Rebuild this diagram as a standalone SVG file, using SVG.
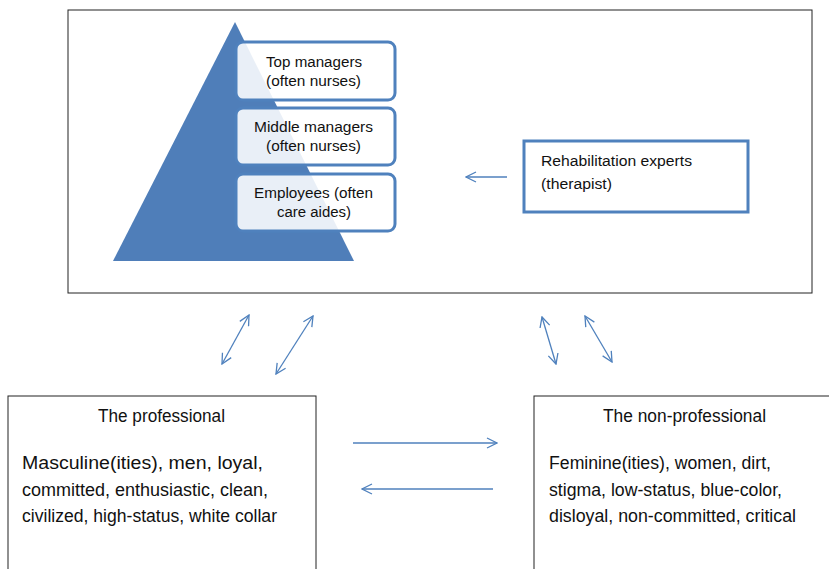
<svg xmlns="http://www.w3.org/2000/svg" width="829" height="569" viewBox="0 0 829 569">
<style>
text{font-family:"Liberation Sans","Noto Sans",sans-serif;fill:#111;}
.t{font-size:14px;}
.b{font-size:17.5px;}
.frame{fill:#fff;stroke:#222;stroke-width:1;}
.tier{fill:#fff;fill-opacity:0.88;stroke:#4f81bd;stroke-width:3;}
.con{fill:none;stroke:#4f81bd;stroke-width:1.3;}
</style>
<defs>
<marker id="ah" viewBox="0 0 12 12" refX="11" refY="6" markerWidth="12" markerHeight="12" markerUnits="userSpaceOnUse" orient="auto-start-reverse">
<path d="M1,1 L11,6 L1,11" fill="none" stroke="#4f81bd" stroke-width="1.3"/>
</marker>
</defs>
<g id="org">
<rect class="frame" x="68" y="10" width="744" height="283"/>
<polygon points="235,22 113,261 354,261" fill="#4f7eb9"/>
</g>
<g id="top-managers">
<rect class="tier" x="236" y="42" width="159" height="58" rx="7"/>
<text class="t" x="266" y="67" textLength="96" lengthAdjust="spacingAndGlyphs">Top managers</text>
<text class="t" x="266" y="86" textLength="95" lengthAdjust="spacingAndGlyphs">(often nurses)</text>
</g>
<g id="middle-managers">
<rect class="tier" x="236" y="108" width="159" height="57" rx="7"/>
<text class="t" x="254" y="132" textLength="119" lengthAdjust="spacingAndGlyphs">Middle managers</text>
<text class="t" x="266" y="151" textLength="95" lengthAdjust="spacingAndGlyphs">(often nurses)</text>
</g>
<g id="employees">
<rect class="tier" x="236" y="174" width="159" height="57" rx="7"/>
<text class="t" x="254" y="198" textLength="119" lengthAdjust="spacingAndGlyphs">Employees (often</text>
<text class="t" x="277" y="217" textLength="74" lengthAdjust="spacingAndGlyphs">care aides)</text>
</g>
<g id="rehab">
<rect x="524" y="141" width="224" height="71" fill="#fff" stroke="#4f81bd" stroke-width="3"/>
<text class="t" x="541" y="166" textLength="151" lengthAdjust="spacingAndGlyphs">Rehabilitation experts</text>
<text class="t" x="541" y="189" textLength="71" lengthAdjust="spacingAndGlyphs">(therapist)</text>
</g>
<g id="professional">
<rect class="frame" x="8" y="396" width="308" height="190"/>
<text class="b" x="98" y="422" textLength="127" lengthAdjust="spacingAndGlyphs">The professional</text>
<text class="b" x="22" y="469" textLength="241" lengthAdjust="spacingAndGlyphs">Masculine(ities), men, loyal,</text>
<text class="b" x="22" y="496" textLength="246" lengthAdjust="spacingAndGlyphs">committed, enthusiastic, clean,</text>
<text class="b" x="22" y="522" textLength="255" lengthAdjust="spacingAndGlyphs">civilized, high-status, white collar</text>
</g>
<g id="non-professional">
<rect class="frame" x="534" y="396" width="310" height="190"/>
<text class="b" x="603" y="422" textLength="163" lengthAdjust="spacingAndGlyphs">The non-professional</text>
<text class="b" x="549" y="469" textLength="222" lengthAdjust="spacingAndGlyphs">Feminine(ities), women, dirt,</text>
<text class="b" x="549" y="496" textLength="233" lengthAdjust="spacingAndGlyphs">stigma, low-status, blue-color,</text>
<text class="b" x="549" y="522" textLength="247" lengthAdjust="spacingAndGlyphs">disloyal, non-committed, critical</text>
</g>
<g id="connectors">
<line class="con" x1="507" y1="177" x2="466" y2="177" marker-end="url(#ah)"/>
<line class="con" x1="222" y1="364" x2="249" y2="315" marker-start="url(#ah)" marker-end="url(#ah)"/>
<line class="con" x1="276" y1="374" x2="313" y2="316" marker-start="url(#ah)" marker-end="url(#ah)"/>
<line class="con" x1="542" y1="317" x2="556" y2="364" marker-start="url(#ah)" marker-end="url(#ah)"/>
<line class="con" x1="585" y1="316" x2="612" y2="362" marker-start="url(#ah)" marker-end="url(#ah)"/>
<line class="con" x1="353" y1="443" x2="497" y2="443" marker-end="url(#ah)"/>
<line class="con" x1="493" y1="489" x2="362" y2="489" marker-end="url(#ah)"/>
</g>
</svg>
